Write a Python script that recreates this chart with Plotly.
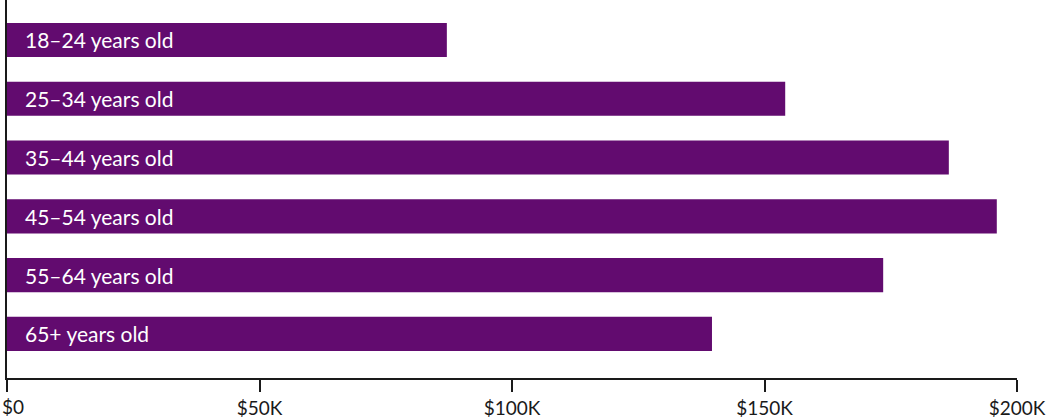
import plotly.graph_objects as go

categories = ["18–24 years old", "25–34 years old", "35–44 years old",
              "45–54 years old", "55–64 years old", "65+ years old"]
values = [87100, 154100, 186500, 196000, 173500, 139600]
tick_vals = [0, 50000, 100000, 150000, 200000]
tick_text = ["$0", "$50K", "$100K", "$150K", "$200K"]

bar_color = "#620b6f"
font_family = "Lato, 'Open Sans', sans-serif"
axis_color = "#1a1a1a"

fig = go.Figure()
fig.add_trace(go.Bar(
    x=values, y=categories, orientation="h",
    marker=dict(color=bar_color, line=dict(width=0)),
    hoverinfo="skip",
))

for c in categories:
    fig.add_annotation(x=0, y=c, xref="x", yref="y", text=c, showarrow=False,
                       xanchor="left", yanchor="middle", xshift=16,
                       font=dict(family=font_family, size=21, color="white"))

# first tick label drawn flush with the left page edge, like the reference
fig.add_annotation(x=tick_vals[0], y=0, xref="x", yref="paper", text=tick_text[0],
                   showarrow=False, xanchor="left", yanchor="top", xshift=-7, yshift=-15,
                   font=dict(family=font_family, size=19, color=axis_color))

fig.update_layout(
    width=1048, height=420,
    margin=dict(l=7, r=31, t=0, b=42, autoexpand=False),
    plot_bgcolor="white", paper_bgcolor="white",
    bargap=0.42, showlegend=False,
    font=dict(family=font_family, size=19, color=axis_color),
)
fig.update_xaxes(
    range=[0, 200000], tickvals=tick_vals, ticktext=[""] + tick_text[1:],
    showgrid=False, zeroline=False, showline=True, linecolor=axis_color, linewidth=1.5,
    ticks="outside", ticklen=12, tickwidth=1.5, tickcolor=axis_color,
    ticklabeloverflow="allow",
    tickfont=dict(family=font_family, size=19, color=axis_color), automargin=False,
)
fig.update_yaxes(
    categoryorder="array", categoryarray=categories,
    range=[5.75, -0.68], showticklabels=False, showgrid=False, zeroline=False,
    showline=True, linecolor=axis_color, linewidth=1.5, ticks="", automargin=False,
)

fig.write_html("out.html", config={"displayModeBar": False},
               post_script="document.body.style.margin='0';document.body.style.overflow='hidden';")
